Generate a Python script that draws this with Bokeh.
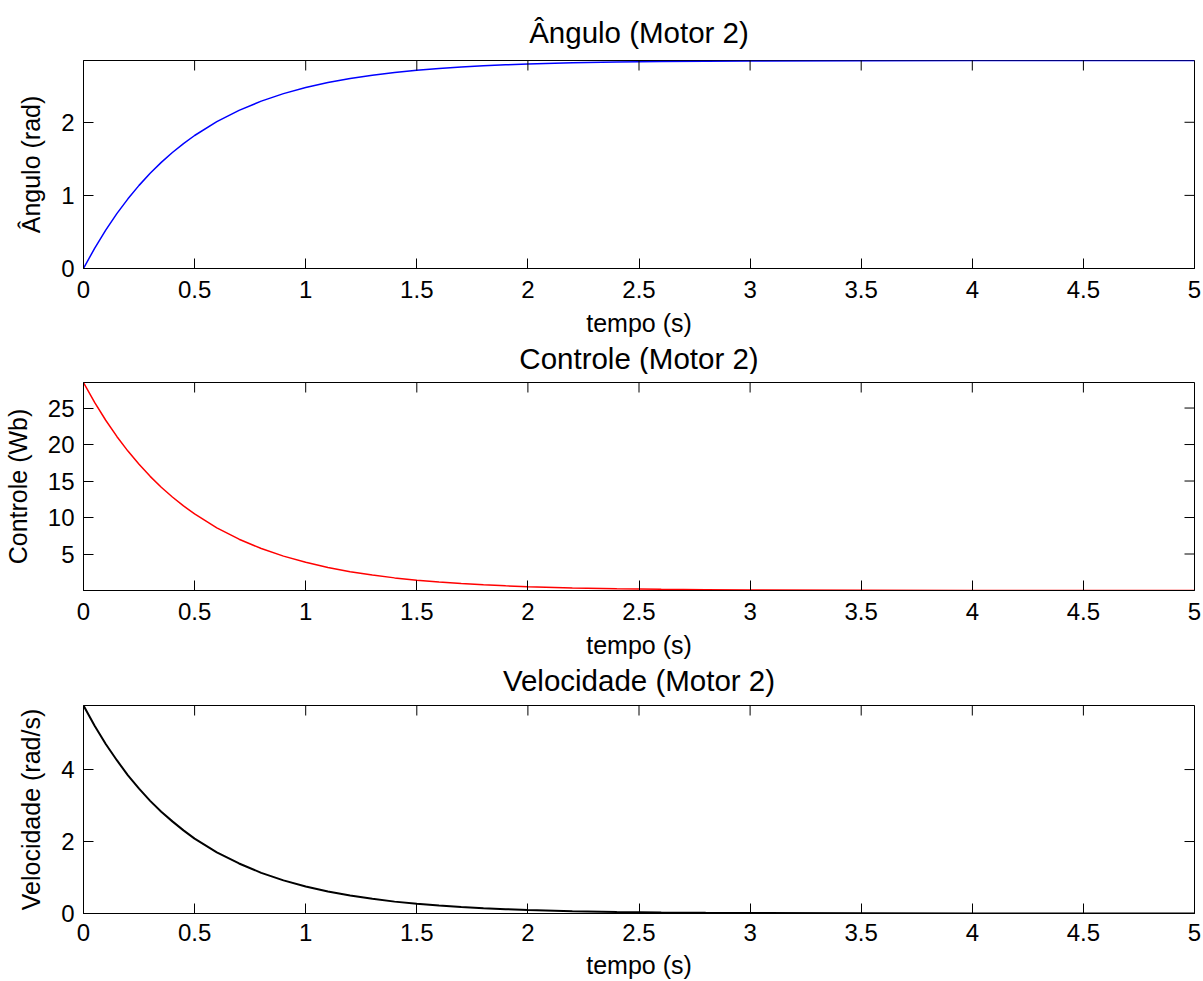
import math
from bokeh.plotting import figure
from bokeh.layouts import column
from bokeh.models import Range1d, FixedTicker, NumeralTickFormatter, Title
from bokeh.embed import file_html
from bokeh.resources import INLINE

# Simulation samples (time in seconds)
tempo = [0, 0.05, 0.1, 0.15, 0.2, 0.25, 0.3, 0.35, 0.4, 0.45, 0.5, 0.6, 0.7, 0.8,
         0.9, 1.0, 1.1, 1.2, 1.3, 1.4, 1.5, 1.6, 1.7, 1.8, 1.9, 2.0, 2.2, 2.4,
         2.6, 2.8, 3.0, 3.5, 4.0, 4.5, 5.0]

angulo = [0.0, 0.276, 0.525, 0.750, 0.953, 1.137, 1.302, 1.452, 1.587, 1.709,
          1.819, 2.008, 2.163, 2.289, 2.392, 2.475, 2.543, 2.599, 2.644, 2.681,
          2.712, 2.736, 2.756, 2.773, 2.786, 2.797, 2.813, 2.824, 2.831, 2.836,
          2.839, 2.843, 2.844, 2.845, 2.845]

controle = [28.5, 25.79, 23.33, 21.11, 19.10, 17.29, 15.64, 14.15, 12.81, 11.59,
            10.49, 8.58, 7.03, 5.75, 4.71, 3.86, 3.16, 2.58, 2.12, 1.73,
            1.42, 1.16, 0.95, 0.78, 0.64, 0.52, 0.35, 0.23, 0.16, 0.11,
            0.07, 0.03, 0.01, 0.003, 0.001]

velocidade = [5.78, 5.22, 4.71, 4.26, 3.84, 3.47, 3.13, 2.83, 2.56, 2.31,
              2.08, 1.70, 1.39, 1.13, 0.92, 0.75, 0.61, 0.50, 0.41, 0.33,
              0.27, 0.22, 0.18, 0.147, 0.120, 0.098, 0.065, 0.043, 0.029, 0.019,
              0.013, 0.005, 0.002, 0.001, 0.0]

x_ticks = [0, 0.5, 1, 1.5, 2, 2.5, 3, 3.5, 4, 4.5, 5]
y_ticks_angulo = [0, 1, 2]
y_ticks_controle = [5, 10, 15, 20, 25]
y_ticks_velocidade = [0, 2, 4]

titles = ["\u00c2ngulo (Motor 2)", "Controle (Motor 2)", "Velocidade (Motor 2)"]

FONT = "Liberation Sans"
W = 1203
TITLE_SIZE = "29.5px"


def panel(ylabel, y, color, lw, yticks, height, top, bottom,
          tick_gap=12, label_gap=8, title_above=None, title_below=None):
    p = figure(width=W, height=height, output_backend="svg", toolbar_location=None,
               x_range=Range1d(0, 5), y_range=Range1d(min(y), max(y)))
    p.min_border_left = 82
    p.min_border_right = 9
    p.min_border_top = top
    p.min_border_bottom = bottom
    p.background_fill_color = "white"
    p.border_fill_color = "white"
    p.outline_line_color = "black"
    p.xgrid.visible = False
    p.ygrid.visible = False

    if title_above:
        p.title.text = title_above
        p.title.align = "center"
        p.title.text_font = FONT
        p.title.text_font_size = TITLE_SIZE
        p.title.text_font_style = "normal"
        p.title.text_color = "black"
        p.title.standoff = 24

    p.line(tempo, y, line_color=color, line_width=lw)

    xt = FixedTicker(ticks=x_ticks)
    yt = FixedTicker(ticks=yticks)

    for ax in p.xaxis:
        ax.ticker = xt
        ax.formatter = NumeralTickFormatter(format="0.[0]")
        ax.axis_label = "tempo (s)"
        ax.major_label_standoff = tick_gap
        ax.axis_label_standoff = label_gap
    for ax in p.yaxis:
        ax.ticker = yt
        ax.formatter = NumeralTickFormatter(format="0")
        ax.axis_label = ylabel
        ax.major_label_standoff = 9
        ax.axis_label_standoff = 13

    for ax in list(p.xaxis) + list(p.yaxis):
        ax.major_tick_in = 10
        ax.major_tick_out = 0
        ax.minor_tick_line_color = None
        ax.axis_line_color = "black"
        ax.major_tick_line_color = "black"
        ax.major_label_text_font = FONT
        ax.major_label_text_font_size = "24px"
        ax.major_label_text_color = "black"
        ax.axis_label_text_font = FONT
        ax.axis_label_text_font_size = "25px"
        ax.axis_label_text_font_style = "normal"
        ax.axis_label_text_color = "black"

    # mirrored inward ticks on the top and right edges of the box
    # (dashes centred on the edge; the half outside the frame is clipped)
    x_end = p.x_range.end
    y_end = p.y_range.end
    p.scatter(x_ticks, [y_end] * len(x_ticks), marker="dash", size=20,
              angle=math.pi / 2, line_color="black", line_width=1)
    p.scatter([x_end] * len(yticks), yticks, marker="dash", size=20,
              line_color="black", line_width=1)

    if title_below:
        t = Title(text=title_below, align="center", text_font=FONT,
                  text_font_size=TITLE_SIZE, text_font_style="normal",
                  text_color="black", standoff=0)
        p.add_layout(t, "below")
    return p


p1 = panel("\u00c2ngulo (rad)", angulo, "#0000ff", 1.5, y_ticks_angulo,
           374, 60, 106, title_above=titles[0], title_below=titles[1])
p2 = panel("Controle (Wb)", controle, "#ff0000", 1.5, y_ticks_controle,
           323, 8, 107, title_below=titles[2])
p3 = panel("Velocidade (rad/s)", velocidade, "black", 2, y_ticks_velocidade,
           284, 8, 68, tick_gap=10, label_gap=7)

layout = column(p1, p2, p3, spacing=0)
open("out.html", "w").write(file_html(layout, INLINE))
